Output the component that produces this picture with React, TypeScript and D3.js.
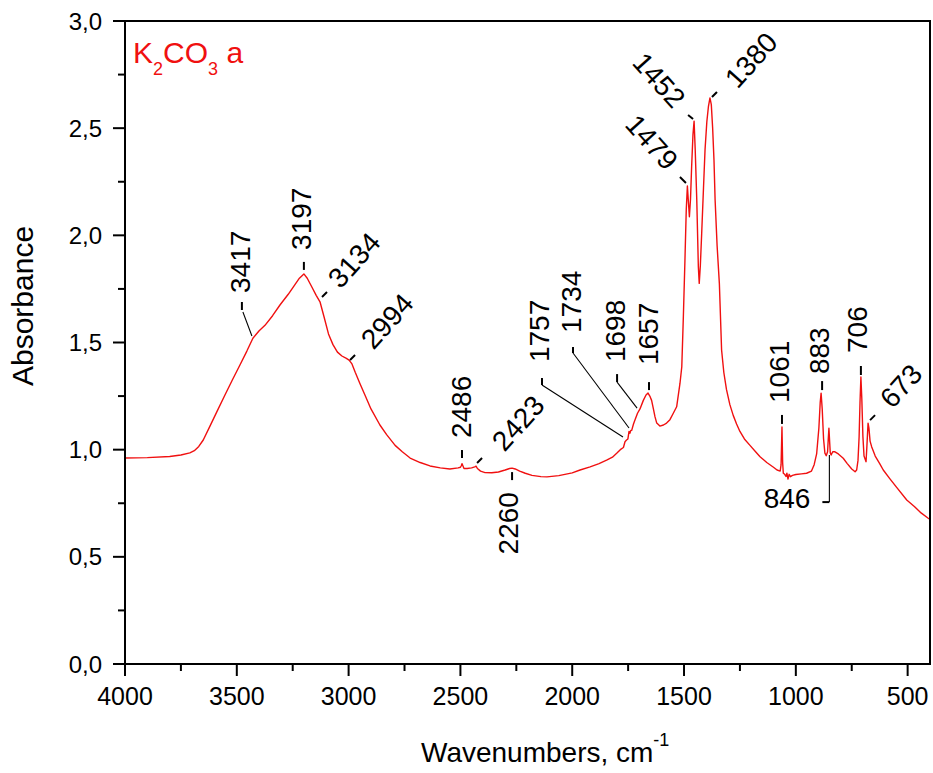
import React from "react";
import * as d3 from "d3";

// ---- spectrum ----
const wavenumbers = [
  4000, 3900, 3800, 3750, 3710, 3690, 3670, 3650, 3620, 3590, 3553, 3520, 3486, 3455, 3428, 3400, 3374, 3340, 3307, 3270,
  3240, 3220, 3200, 3185, 3165, 3145, 3128, 3110, 3090, 3070, 3050, 3030, 3010, 2998, 2985, 2970, 2950, 2927, 2900, 2860,
  2830, 2792, 2760, 2725, 2680, 2636, 2590, 2547, 2510, 2500, 2496, 2493, 2489, 2484, 2470, 2450, 2436, 2430, 2424, 2410,
  2390, 2360, 2330, 2300, 2280, 2269, 2255, 2235, 2210, 2180, 2140, 2113, 2060, 2000, 1965, 1920, 1880, 1844, 1820, 1800,
  1785, 1771, 1764, 1757, 1751, 1746, 1742, 1738, 1734, 1726, 1719, 1708, 1697, 1682, 1670, 1661, 1653, 1645, 1637, 1630,
  1622, 1608, 1592, 1578, 1563, 1548, 1533, 1518, 1510, 1503, 1496, 1490, 1485, 1480, 1476, 1471, 1466, 1460, 1455, 1450,
  1443, 1436, 1432, 1427, 1421, 1413, 1406, 1398, 1391, 1384, 1378, 1372, 1366, 1361, 1352, 1342, 1332, 1322, 1310, 1295,
  1280, 1265, 1250, 1230, 1205, 1180, 1160, 1130, 1100, 1084, 1070, 1066, 1062, 1059, 1056, 1050, 1044, 1040, 1035, 1030,
  1024, 1015, 1000, 975, 952, 930, 918, 907, 897, 891, 887, 882, 876, 870, 864, 858, 855, 852, 849, 846,
  842, 835, 825, 810, 788, 770, 750, 735, 728, 722, 717, 713, 709, 705, 700, 695, 686, 682, 677, 673,
  668, 661, 645, 625, 609, 580, 550, 504, 470, 440, 408, 400,
];
const absorbance = [
  0.961, 0.963, 0.968, 0.975, 0.985, 0.995, 1.015, 1.045, 1.11, 1.175, 1.255, 1.325, 1.395, 1.46, 1.52, 1.555, 1.58, 1.625, 1.675, 1.725,
  1.77, 1.8, 1.82, 1.8, 1.76, 1.72, 1.69, 1.62, 1.54, 1.49, 1.455, 1.437, 1.426, 1.418, 1.4, 1.36, 1.31, 1.255, 1.19, 1.115,
  1.07, 1.02, 0.99, 0.961, 0.94, 0.924, 0.915, 0.91, 0.915, 0.918, 0.925, 0.935, 0.925, 0.912, 0.912, 0.915, 0.92, 0.923, 0.912, 0.9,
  0.893, 0.892, 0.896, 0.905, 0.912, 0.914, 0.91, 0.9, 0.89, 0.88, 0.874, 0.873, 0.879, 0.892, 0.905, 0.92, 0.935, 0.952, 0.965, 0.984,
  1.0, 1.01, 1.037, 1.045, 1.05, 1.085, 1.077, 1.09, 1.09, 1.12, 1.14, 1.17, 1.19, 1.23, 1.255, 1.264, 1.25, 1.23, 1.19, 1.154,
  1.124, 1.11, 1.115, 1.124, 1.14, 1.17, 1.2, 1.31, 1.387, 1.62, 1.88, 2.12, 2.23, 2.15, 2.087, 2.17, 2.32, 2.47, 2.533, 2.4,
  2.165, 1.854, 1.776, 1.86, 2.01, 2.22, 2.4, 2.53, 2.6, 2.641, 2.61, 2.5, 2.35, 2.165, 1.95, 1.776, 1.465, 1.36, 1.28, 1.21,
  1.16, 1.12, 1.085, 1.05, 1.02, 0.99, 0.967, 0.94, 0.918, 0.905, 0.9, 0.93, 1.106, 0.94, 0.89, 0.885, 0.875, 0.89, 0.863, 0.885,
  0.874, 0.88, 0.884, 0.887, 0.89, 0.9, 0.93, 0.98, 1.1, 1.22, 1.264, 1.19, 1.05, 0.984, 0.972, 0.99, 1.05, 1.1, 1.04, 0.985,
  0.975, 0.99, 0.99, 0.98, 0.96, 0.935, 0.91, 0.897, 0.905, 0.95, 1.06, 1.22, 1.339, 1.24, 1.06, 0.97, 0.944, 1.02, 1.124, 1.1,
  1.04, 1.014, 0.97, 0.935, 0.905, 0.865, 0.825, 0.765, 0.735, 0.705, 0.68, 0.675,
];

// ---- axes ----
const xMajorTicks = [4000, 3500, 3000, 2500, 2000, 1500, 1000, 500];
const xMinorTicks = [3750, 3250, 2750, 2250, 1750, 1250, 750];
const yMajorTicks = [0, 0.5, 1.0, 1.5, 2.0, 2.5, 3.0];
const yMinorTicks = [0.25, 0.75, 1.25, 1.75, 2.25, 2.75];

// ---- peak labels ----
const peakLabels = ["3417", "3197", "3134", "2994", "2486", "2423", "2260", "1757", "1734", "1698", "1657", "1479", "1452", "1380", "1061", "883", "706", "673", "846"];
const peakWavenumbers = [3428, 3200, 3128, 2998, 2493, 2430, 2269, 1773, 1746, 1710, 1661, 1487, 1455, 1384, 1062, 887, 709, 677, 850];
const peakAbsorbance = [1.521, 1.82, 1.689, 1.418, 0.933, 0.919, 0.914, 1.059, 1.101, 1.194, 1.264, 2.23, 2.533, 2.641, 1.106, 1.264, 1.339, 1.124, 0.984];

// ---- layout of labels (pixel offsets from the pointed spectrum point) ----
type Seg = [number, number, number, number];
type Lay = { rot: number; anchor: "start" | "end"; text: [number, number]; dashes: Seg[]; leaders?: Seg[] };
const labelLayout: Record<string, Lay> = {
  "3417": { rot: -90, anchor: "start", text: [-13, -45], dashes: [[-11, -36, -11, -28]], leaders: [[-10, -26, -1, -2]] },
  "3197": { rot: -90, anchor: "start", text: [-2.5, -24], dashes: [[0, -12, 0, -4]] },
  "3134": { rot: -48, anchor: "start", text: [13, -19], dashes: [[2, -5, 7, -10]] },
  "2994": { rot: -48, anchor: "start", text: [17, -16], dashes: [[1, 0, 6, -5]] },
  "2486": { rot: -90, anchor: "start", text: [-1, -26], dashes: [[0, -14, 0, -6]] },
  "2423": { rot: -48, anchor: "start", text: [21, -21], dashes: [[1, -4, 6, -9]] },
  "2260": { rot: -90, anchor: "end", text: [-4, 24], dashes: [[0, 4, 0, 12]] },
  "1757": { rot: -90, anchor: "start", text: [-84, -75], dashes: [[-81, -59, -81, -52]], leaders: [[-81, -52, 0, 0]] },
  "1734": { rot: -90, anchor: "start", text: [-58, -95], dashes: [[-56, -81, -56, -75]], leaders: [[-56, -75, 0, 0]] },
  "1698": { rot: -90, anchor: "start", text: [-22, -46], dashes: [[-20, -34, -20, -26]], leaders: [[-20, -26, 0, 0]] },
  "1657": { rot: -90, anchor: "start", text: [0, -28], dashes: [[1, -11, 1, -3]] },
  "1479": { rot: 48, anchor: "end", text: [-14, -21], dashes: [[-7, -9, -1, -3]] },
  "1452": { rot: 48, anchor: "end", text: [-14, -18], dashes: [[-6, -6, -1, -2]] },
  "1380": { rot: -48, anchor: "start", text: [20, -15], dashes: [[2, -1, 7, -6]] },
  "1061": { rot: -90, anchor: "start", text: [-3, -24], dashes: [[0, -12, 0, -3]] },
  "883": { rot: -90, anchor: "start", text: [-2, -19], dashes: [[1, -12, 1, -3]] },
  "706": { rot: -90, anchor: "start", text: [-4, -24], dashes: [[0, -11, 0, -2]] },
  "673": { rot: -48, anchor: "start", text: [17, -20], dashes: [[2, -3, 7, -8]] },
  "846": { rot: 0, anchor: "end", text: [-19, 45], dashes: [[-7, 49, 0, 49]], leaders: [[0, 2, 0, 49]] },
};

const FONT = "'Liberation Sans', Arial, Helvetica, sans-serif";
const RED = "#f01010";
const W = 933;
const H = 773;
const left = 125, right = 930, top = 21, bottom = 664;

export default function App() {
  const x = d3.scaleLinear().domain([4000, 400]).range([left, right]);
  const y = d3.scaleLinear().domain([0, 3]).range([bottom, top]);
  const pts = wavenumbers.map((w, i) => [w, absorbance[i]] as [number, number]);
  const line = d3.line<[number, number]>().x((d) => x(d[0])).y((d) => y(d[1]));
  const fmt = (v: number) => d3.format(".1f")(v).replace(".", ",");

  return (
    <svg width={W} height={H} style={{ position: "absolute", left: 0, top: 0, display: "block", background: "#fff" }} fontFamily={FONT}>
      <rect x={0} y={0} width={W} height={H} fill="#fff" />
      {/* spectrum */}
      <path d={line(pts) || ""} fill="none" stroke={RED} strokeWidth={1.4} strokeLinejoin="round" />

      {/* frame */}
      <rect x={left} y={top} width={right - left} height={bottom - top} fill="none" stroke="#000" strokeWidth={2} />

      {/* x ticks */}
      {xMajorTicks.map((t) => (
        <g key={"xM" + t}>
          <line x1={x(t)} x2={x(t)} y1={bottom} y2={bottom + 12} stroke="#000" strokeWidth={2} />
          <text x={x(t)} y={705} fontSize={25} textAnchor="middle" fill="#000">{t}</text>
        </g>
      ))}
      {xMinorTicks.map((t) => (
        <line key={"xm" + t} x1={x(t)} x2={x(t)} y1={bottom} y2={bottom + 7} stroke="#000" strokeWidth={2} />
      ))}
      {/* y ticks */}
      {yMajorTicks.map((t) => (
        <g key={"yM" + t}>
          <line x1={left - 12} x2={left} y1={y(t)} y2={y(t)} stroke="#000" strokeWidth={2} />
          <text x={102} y={y(t)} dy="0.36em" fontSize={24} textAnchor="end" fill="#000">{fmt(t)}</text>
        </g>
      ))}
      {yMinorTicks.map((t) => (
        <line key={"ym" + t} x1={left - 7} x2={left} y1={y(t)} y2={y(t)} stroke="#000" strokeWidth={2} />
      ))}

      {/* axis titles */}
      <text transform={`translate(33,306) rotate(-90)`} fontSize={30} textAnchor="middle" fill="#000">Absorbance</text>
      <text x={421} y={762} fontSize={28} fill="#000">
        Wavenumbers, cm<tspan fontSize={18} dy={-16}>-1</tspan>
      </text>

      {/* sample label */}
      <text x={133} y={63} fontSize={30} fill={RED}>
        K<tspan fontSize={18} dy={12}>2</tspan>
        <tspan dy={-12}>CO</tspan>
        <tspan fontSize={18} dy={12}>3</tspan>
        <tspan dy={-12}> a</tspan>
      </text>

      {/* peak annotations */}
      {peakLabels.map((lab, i) => {
        const L = labelLayout[lab];
        const px = x(peakWavenumbers[i]);
        const py = y(peakAbsorbance[i]);
        return (
          <g key={"pk" + lab}>
            {(L.leaders || []).map((s, j) => (
              <line key={"l" + j} x1={px + s[0]} y1={py + s[1]} x2={px + s[2]} y2={py + s[3]} stroke="#000" strokeWidth={1.1} />
            ))}
            {L.dashes.map((s, j) => (
              <line key={"d" + j} x1={px + s[0]} y1={py + s[1]} x2={px + s[2]} y2={py + s[3]} stroke="#000" strokeWidth={2} />
            ))}
            <text
              transform={`translate(${px + L.text[0]},${py + L.text[1]}) rotate(${L.rot})`}
              dy="0.36em"
              fontSize={28}
              textAnchor={L.anchor}
              fill="#000"
            >
              {lab}
            </text>
          </g>
        );
      })}
    </svg>
  );
}
